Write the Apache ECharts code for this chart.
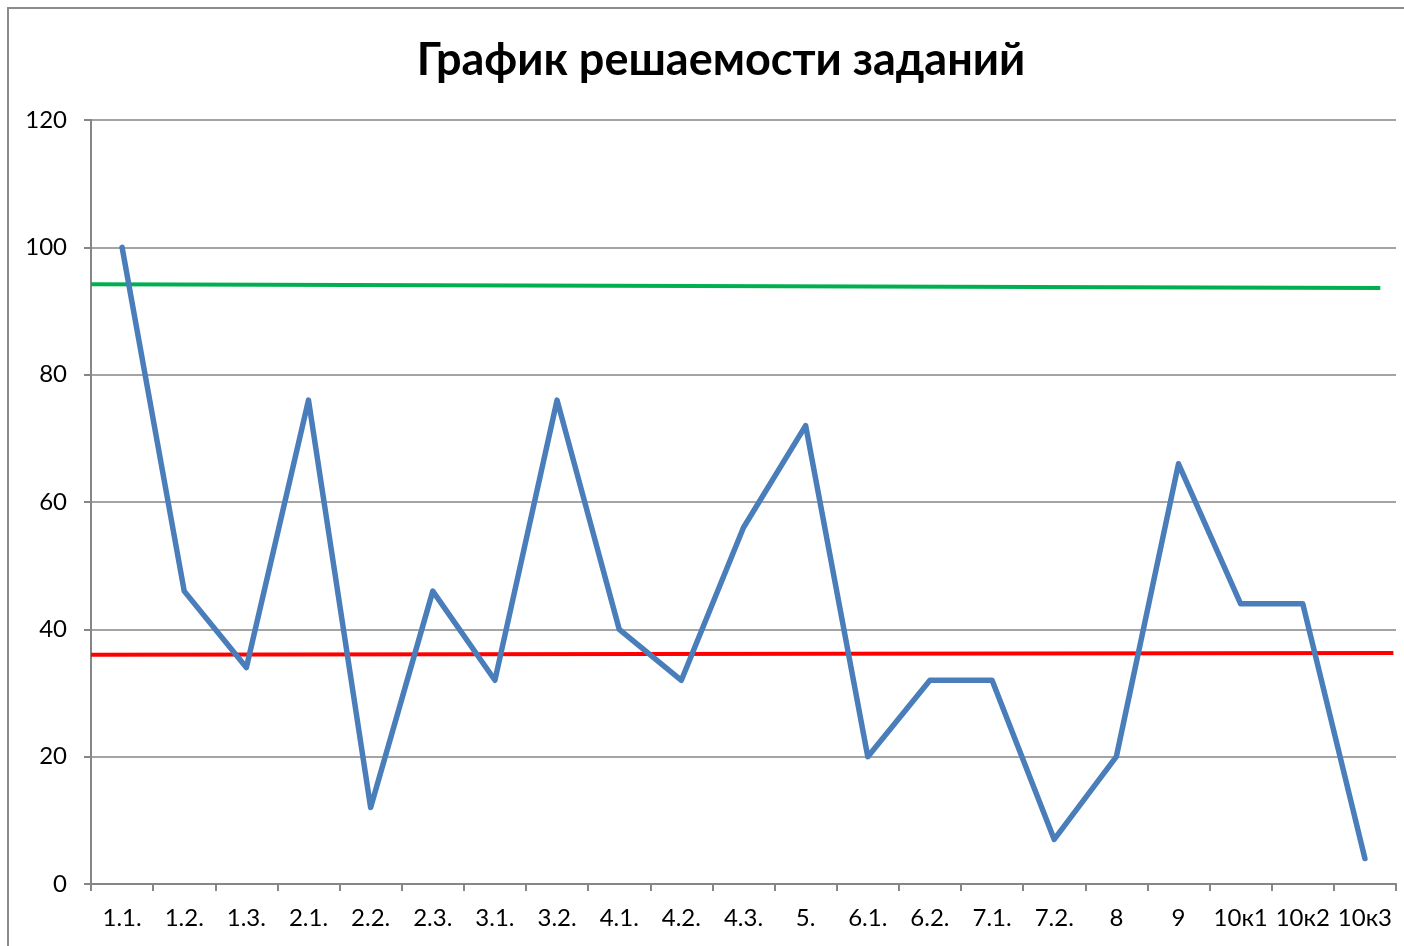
<!DOCTYPE html>
<html>
<head>
<meta charset="utf-8">
<script src="https://cdn.jsdelivr.net/npm/echarts@6/dist/echarts.min.js"></script>
<style>
  html, body { margin: 0; padding: 0; background: #fff; overflow: hidden; }
  .frame { position: absolute; left: 7px; top: 7px; width: 1500px; height: 1000px; border: 2px solid #8c8c8c; }
  #chart { position: absolute; left: 0; top: 0; width: 1404px; height: 946px; }
</style>
</head>
<body>
<div class="frame"></div>
<div id="chart"></div>
<script>
// task labels and solve rate, %
const categories = ["1.1.", "1.2.", "1.3.", "2.1.", "2.2.", "2.3.", "3.1.", "3.2.", "4.1.", "4.2.", "4.3.", "5.", "6.1.", "6.2.", "7.1.", "7.2.", "8", "9", "10к1", "10к2", "10к3"];
const solved = [100, 46, 34, 76, 12, 46, 32, 76, 40, 32, 56, 72, 20, 32, 32, 7, 20, 66, 44, 44, 4];
// reference lines across the plot (x as fraction of width, y value)
const greenLine = [[0, 94.2], [0.988, 93.6]];
const redLine = [[0, 36.0], [0.998, 36.3]];

const font = "Lato, 'Open Sans', sans-serif";
const axisGray = "#868686";

const chart = echarts.init(document.getElementById("chart"));
chart.setOption({
  animation: false,
  title: {
    text: "График решаемости заданий",
    left: 716,
    textAlign: "center",
    top: 33,
    textStyle: { fontFamily: font, fontWeight: "bold", fontSize: 45, color: "#000" },
  },
  grid: { left: 91, right: 8, top: 120, bottom: 62 },
  xAxis: [
    {
      type: "category",
      data: categories,
      boundaryGap: true,
      axisLine: { lineStyle: { color: axisGray, width: 2 } },
      axisTick: { show: true, length: 7, interval: 0, lineStyle: { color: axisGray, width: 2 } },
      axisLabel: { interval: 0, color: "#000", fontFamily: font, fontSize: 24, margin: 22 },
    },
    { type: "value", min: 0, max: 1, show: false },
  ],
  yAxis: {
    type: "value",
    min: 0,
    max: 120,
    interval: 20,
    axisLine: { show: true, lineStyle: { color: axisGray, width: 2 } },
    axisTick: { show: true, length: 7, lineStyle: { color: axisGray, width: 2 } },
    axisLabel: { color: "#000", fontFamily: font, fontSize: 24, margin: 24 },
    splitLine: { lineStyle: { color: axisGray, width: 1.5 } },
  },
  series: [
    {
      type: "line",
      xAxisIndex: 1,
      data: greenLine,
      symbol: "none",
      lineStyle: { color: "#00b050", width: 4 },
    },
    {
      type: "line",
      xAxisIndex: 1,
      data: redLine,
      symbol: "none",
      lineStyle: { color: "#ff0000", width: 4 },
    },
    {
      type: "line",
      data: solved,
      symbol: "none",
      lineStyle: { color: "#4a7ebb", width: 5.5, cap: "round", join: "round" },
      z: 5,
    },
  ],
});
</script>
</body>
</html>
